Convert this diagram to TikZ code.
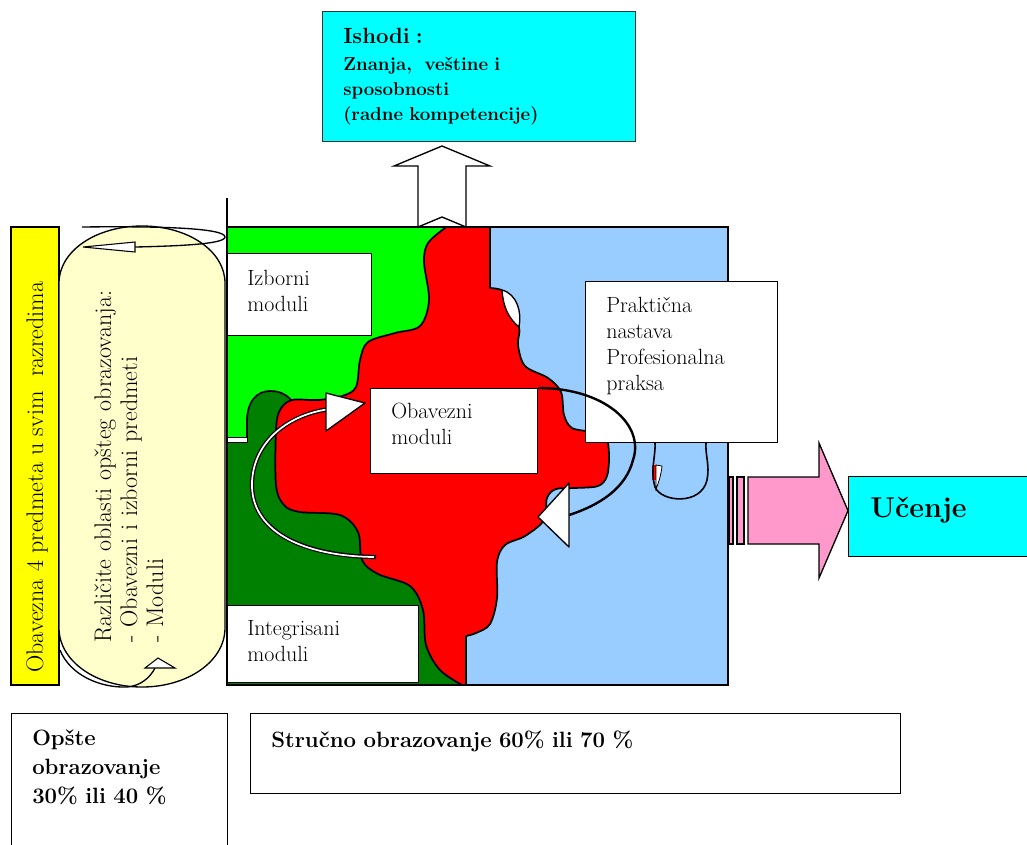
\documentclass[tikz,border=0pt]{standalone}
\usepackage{tikz}
\usetikzlibrary{calc}
\definecolor{lgreen}{RGB}{0,255,0}
\definecolor{dgreen}{RGB}{0,128,0}
\definecolor{lblue}{RGB}{153,204,255}
\definecolor{lcyan}{RGB}{0,255,255}
\definecolor{lpink}{RGB}{255,153,204}
\definecolor{lyellow}{RGB}{255,255,204}
\definecolor{yel}{RGB}{255,255,0}

\begin{document}
\begin{tikzpicture}[x=0.75pt,y=0.75pt,yscale=-1,xscale=1,
  box/.style={draw, line width=1pt, fill=white, anchor=north west, inner sep=0pt},
  txt/.style={anchor=base west, inner sep=0pt, align=left, text width=#1, font=\fontsize{16.5}{19.5}\selectfont},
  btxt/.style={anchor=base west, inner sep=0pt, align=left, text width=#1, font=\bfseries\fontsize{16.6}{21.75}\selectfont},
  outline/.style={draw, line width=1.3pt, line join=round}]
\useasboundingbox (0,0) rectangle (1027,844);

%Shape: Rectangle (fields of the block)
\fill[lgreen] (227,227) rectangle (463,440);
\fill[dgreen] (227,440) rectangle (463,685);
\fill[lblue] (463,227) rectangle (728,685);
%Curve Lines (dark green bump)
\fill[dgreen] (247,442) -- (247,425) .. controls (246,400) and (258,391) .. (270,391) .. controls (282,391) and (288,396) .. (294,403) -- (300,442) -- cycle;
\draw[line width=1.3pt] (247,442) -- (247,425) .. controls (246,400) and (258,391) .. (270,391) .. controls (282,391) and (288,396) .. (294,403);
%Curve Lines (red blob)
\draw[outline, fill=red] (445,227) -- (490,227) -- (490,288)
  -- plot[smooth, tension=0.55] coordinates {(490,288) (498,289) (503,292) (506,308) (519,327) (518,345) (525,366) (548,378) (561,392) (564,415) (572,428) (592,432) (606,438) (609,455) (607,476) (598,486) (575,488) (556,489) (547,498) (544,520) (525,536) (505,545) (497,562) (497,598) (490,624) (476,633) (466,636)}
  -- (466,685) -- (462,685)
  -- plot[smooth, tension=0.55] coordinates {(462,685) (440,670) (426,645) (423,610) (410,586) (378,574) (362,560) (358,532) (340,515) (300,512) (284,505) (276,485) (276,430) (280,410) (292,400) (318,400) (342,396) (356,387) (360,360) (368,342) (395,333) (420,326) (429,300) (424,262) (428,243) (445,228)}
  -- cycle;
%Curve Lines (white lenses)
\draw[fill=white, line width=1pt] (502,290) .. controls (517,294) and (522,312) .. (519,327) .. controls (508,318) and (503,306) .. (502,290) -- cycle;
\fill[red] (652,465) rectangle (656,480);
\draw[fill=white, line width=0.6pt] (656,465) -- (662,466) .. controls (661,475) and (659,482) .. (656,489) .. controls (656,480) and (656,472) .. (656,465) -- cycle;
%Curve Lines (loop under the box)
\draw[line width=1.2pt] (655,442) .. controls (656,455) and (650,470) .. (655,487) .. controls (661,502) and (701,506) .. (707,480) .. controls (710,465) and (705,455) .. (706,442);
%Shape: Rectangle (frame)
\draw[line width=1.5pt] (227,227) rectangle (728,685);
\draw[line width=1.2pt] (227,198) -- (227,227);
\draw[fill=white, line width=0.7pt] (227,437.5) rectangle (247,442.5);

%Shape: Rectangle (module boxes)
\node[box, minimum width=108pt, minimum height=61.5pt] (izb) at (227,253) {};
\node[box, minimum width=143.25pt, minimum height=57.75pt] (integ) at (227,605) {};
\node[box, minimum width=125.25pt, minimum height=63.75pt] (obav) at (370,388) {};
\node[box, minimum width=144pt, minimum height=120.75pt] (prakt) at (585,281) {};

%Curve Lines (double arrow, left)
\draw[line width=3.2pt] (376,557) .. controls (300,556) and (250,530) .. (252,482) .. controls (254,440) and (290,414) .. (330,409);
\draw[line width=1.3pt, white] (374,557) .. controls (300,556) and (250,530) .. (252,482) .. controls (254,440) and (290,414) .. (330,409);
\draw[fill=white, line width=1pt, line join=round] (326,393) -- (365,403) -- (326,431) -- cycle;
%Curve Lines (arrow, right)
\draw[line width=1.8pt] (obav.north east) .. controls (605,388) and (645,425) .. (633,460) .. controls (626,488) and (600,505) .. (569,515);
\draw[fill=white, line width=1pt, line join=round] (569,483) -- (569,547) -- (538,517) -- cycle;

%Shape: Rectangle (outcome box)
\node[box, fill=lcyan, draw=black!80, minimum width=234.75pt, minimum height=97.5pt] (ishodi) at (322,11) {};
%Shape: Up Arrow
\draw[fill=white, line width=1pt] (418,227) -- (418,166) -- (394,166) -- (442,146) -- (490,166) -- (466,166) -- (466,227) -- (442,217) -- cycle;

%Shape: Rectangle (learning box)
\node[box, fill=lcyan, minimum width=140.25pt, minimum height=60pt] (ucenje) at (848,476) {};
%Shape: Right Arrow
\draw[fill=lpink, line width=1pt] (729,477) rectangle (733,544);
\draw[fill=lpink, line width=1pt] (737,477) rectangle (744,544);
\draw[fill=lpink, line width=1pt] (748,477) -- (819,477) -- (819,443) -- ($(ucenje.west)+(0,-6)$) -- (819,578) -- (819,544) -- (748,544) -- cycle;

%Shape: Rectangle (yellow bar)
\draw[fill=yel, line width=1pt] (11,227) rectangle (59,685);
%Shape: Rounded Rectangle
\draw[fill=lyellow, line width=1pt] (59,283) .. controls (59,251) and (96,226) .. (142,226) .. controls (188,226) and (225,251) .. (225,283) -- (225,628) .. controls (225,661) and (188,687) .. (142,687) .. controls (96,687) and (59,661) .. (59,628) -- cycle;
%Curve Lines (arrows round it)
\draw[line width=1pt] (82,227) .. controls (160,226) and (225,228) .. (225,237) .. controls (225,244) and (180,246) .. (135,247);
\draw[fill=white, line width=0.8pt] (135,242) -- (135,252) -- (83,247) -- cycle;
\draw[line width=1pt] (60,650) .. controls (70,675) and (100,688) .. (127,687) .. controls (140,686) and (150,678) .. (155,668);
\draw[fill=white, line width=0.8pt] (145,668) -- (175,668) -- (158,658) -- cycle;

%Shape: Rectangle (bottom boxes)
\node[box, minimum width=162pt, minimum height=112pt] (opste) at (11,713) {};
\node[box, minimum width=487.5pt, minimum height=60pt] (strucno) at (250,713) {};

% Text Node
\node[anchor=base west, inner sep=0pt, rotate=90, font=\fontsize{18}{19.5}\selectfont] (obavt) at (43,673) {Obavezna 4 predmeta u svim~ razredima};
% Text Node
\node[txt=340pt, rotate=90, font=\fontsize{18}{19.5}\selectfont] (razlt) at (111,643) {Različite oblasti opšteg obrazovanja:\\ - Obavezni i izborni predmeti\\ - Moduli};
% Text Node
\node[txt=100pt] (izbt) at (247,285) {Izborni\\moduli};
% Text Node
\node[txt=120pt] (obavmt) at (391,418) {Obavezni\\moduli};
% Text Node
\node[txt=130pt] (integt) at (247,635) {Integrisani\\moduli};
% Text Node
\node[txt=130pt] (praktt) at (606,312) {Praktična\\nastava\\Profesionalna\\praksa};
% Text Node
\node[anchor=base west, inner sep=0pt, align=left, text width=220pt, font=\bfseries\fontsize{14}{18.75}\selectfont] (ishodit) at (343,43) {{\fontsize{16.5}{18.75}\selectfont Ishodi :}\\[1.5pt] Znanja,~ veštine i\\ sposobnosti\\ (radne kompetencije)};
% Text Node
\node[anchor=base west, inner sep=0pt, font=\bfseries\fontsize{21.5}{26}\selectfont] (ucenjet) at (870,517) {Učenje};
% Text Node
\node[btxt=150pt] (opstet) at (32,745) {Opšte\\obrazovanje\\30\% ili 40 \%};
% Text Node
\node[btxt=480pt] (strucnot) at (271,747) {Stručno obrazovanje 60\% ili 70 \%};
\end{tikzpicture}
\end{document}
